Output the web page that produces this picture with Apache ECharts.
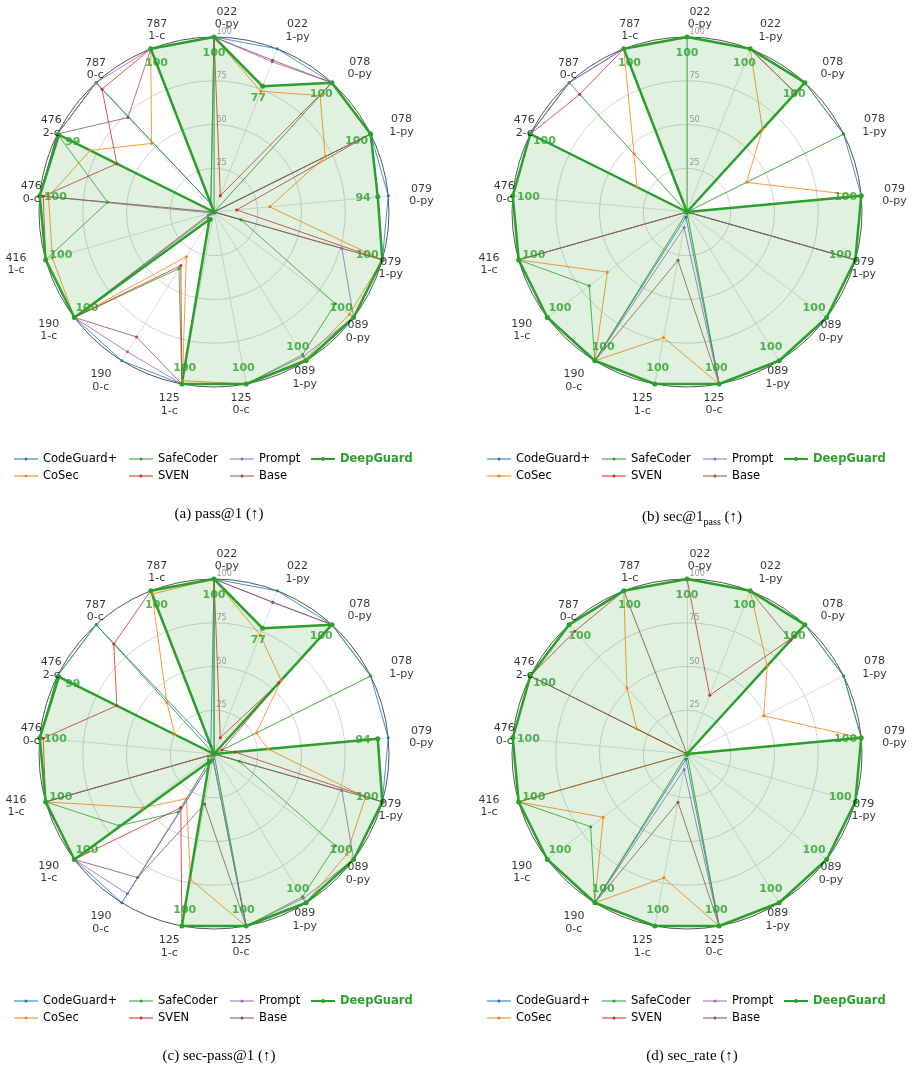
<!DOCTYPE html>
<html>
<head>
<meta charset="utf-8">
<script src="https://cdn.jsdelivr.net/npm/echarts@6/dist/echarts.min.js"></script>
<style>
html, body { margin: 0; padding: 0; background: #fff; }
#main { width: 913px; height: 1068px; }
</style>
</head>
<body>
<div id="main"></div>
<script>
// categories, clockwise from the top
var categories = ['022\n0-py', '022\n1-py', '078\n0-py', '078\n1-py', '079\n0-py', '079\n1-py',
    '089\n0-py', '089\n1-py', '125\n0-c', '125\n1-c', '190\n0-c', '190\n1-c', '416\n1-c',
    '476\n0-c', '476\n2-c', '787\n0-c', '787\n1-c'];
var methods = ['CodeGuard+', 'CoSec', 'SafeCoder', 'SVEN', 'Prompt', 'Base', 'DeepGuard'];
var colors = ['#1f77b4', '#ff7f0e', '#2ca02c', '#d62728', '#9467bd', '#8c564b', '#2ca02c'];
var tickValues = [25, 50, 75, 100];

// rows follow methods order
var passAt1 = [
    [100, 100, 100, 100, 100, 100, 100, 100, 100, 100, 100, 100, 100, 100, 100, 100, 5],
    [100, 74, 90, 71, 32, 100, 97, 99, 100, 98, 30, 100, 96, 95, 79, 53, 100],
    [100, 0, 100, 100, 0, 16, 87, 96, 100, 100, 38, 100, 100, 61, 100, 100, 5],
    [100, 10, 100, 100, 13, 100, 100, 100, 100, 100, 36, 100, 100, 98, 62, 95, 100],
    [100, 92, 100, 100, 0, 76, 100, 97, 100, 100, 94, 100, 2, 100, 100, 100, 100],
    [100, 93, 100, 100, 0, 100, 100, 100, 100, 100, 84, 100, 0, 100, 100, 73, 100],
    [100, 77, 100, 100, 94, 100, 100, 100, 100, 100, 5, 100, 100, 100, 99, 0, 100]
];
var secAt1Pass = [
    [100, 100, 100, 100, 100, 100, 100, 100, 100, 3, 100, 100, 100, 100, 100, 100, 100],
    [100, 100, 64, 38, 100, 100, 100, 100, 100, 73, 100, 57, 100, 0, 32, 45, 100],
    [100, 100, 100, 100, 0, 100, 100, 100, 100, 0, 100, 70, 100, 100, 100, 100, 0],
    [100, 100, 92, 0, 100, 100, 100, 100, 100, 100, 100, 100, 100, 100, 100, 91, 100],
    [100, 100, 100, 0, 0, 100, 100, 100, 100, 9, 100, 100, 100, 0, 100, 100, 100],
    [100, 100, 92, 0, 0, 100, 100, 100, 100, 28, 100, 100, 100, 0, 0, 0, 100],
    [100, 100, 100, 0, 100, 100, 100, 100, 100, 100, 100, 100, 100, 100, 100, 0, 100]
];
var secPassAt1 = [
    [100, 100, 100, 100, 100, 100, 100, 100, 100, 3, 100, 100, 100, 100, 100, 100, 5],
    [100, 73, 57, 27, 31, 90, 95, 100, 100, 73, 30, 51, 100, 0, 25, 40, 98],
    [100, 0, 100, 100, 0, 15, 87, 96, 100, 0, 39, 68, 100, 100, 100, 100, 0],
    [100, 10, 55, 5, 12, 100, 100, 100, 100, 100, 36, 100, 100, 98, 62, 85, 100],
    [100, 93, 100, 0, 0, 76, 100, 97, 100, 3, 94, 100, 100, 0, 0, 0, 100],
    [100, 93, 100, 0, 0, 100, 100, 100, 100, 29, 83, 100, 100, 0, 0, 0, 100],
    [100, 77, 100, 0, 94, 100, 100, 100, 100, 100, 5, 100, 100, 100, 99, 0, 100]
];
var secRate = [
    [100, 100, 100, 100, 100, 100, 100, 100, 100, 3, 100, 100, 100, 100, 100, 100, 100],
    [100, 100, 68, 49, 100, 100, 100, 100, 100, 72, 100, 60, 100, 0, 32, 51, 100],
    [100, 100, 100, 100, 100, 100, 100, 100, 100, 0, 100, 69, 100, 100, 100, 100, 100],
    [100, 36, 91, 0, 100, 100, 100, 100, 100, 100, 100, 100, 100, 100, 100, 95, 100],
    [100, 100, 100, 0, 100, 100, 100, 100, 100, 9, 100, 100, 100, 100, 100, 100, 100],
    [100, 100, 88, 0, 100, 100, 100, 100, 100, 28, 100, 100, 100, 0, 100, 0, 100],
    [100, 100, 100, 0, 100, 100, 100, 100, 100, 100, 100, 100, 100, 100, 100, 100, 100]
];

var captions = [
    '{t|(a) pass@1 (↑)}',
    '{t|(b) sec@1}{s|pass}{t| (↑)}',
    '{t|(c) sec-pass@1 (↑)}',
    '{t|(d) sec_rate (↑)}'
];

// layout
var panels = [
    { data: passAt1, cx: 214, cy: 212 },
    { data: secAt1Pass, cx: 687, cy: 212 },
    { data: secPassAt1, cx: 214, cy: 754 },
    { data: secRate, cx: 687, cy: 754 }
];
var R = 175;
var step = 360 / categories.length;
// tick label placement (radius in axis units, clockwise shift in degrees)
var labelR = [111, 114, 117, 118, 119, 106, 107, 108, 111, 113, 116, 116, 117, 105, 105, 106, 109];
var labelShift = [3.8, 3.6, 3.0, 1.7, 0.6, 1.7, 2.7, 3.1, 2.6, 2.5, 2.1, 1.5, 1.1, 0.7, 1.2, 2.6, 3.7];
var legendCols = [[0, 1], [2, 3], [4, 5], [6]];
var legendX = [14, 129, 230, 311];
var font = 'DejaVu Sans';

// echarts radar runs counter-clockwise, so feed it reversed
var order = [0];
for (var i = categories.length - 1; i > 0; i--) order.push(i);

var option = {
    backgroundColor: '#fff',
    animation: false,
    title: [], radar: [], polar: [], angleAxis: [], radiusAxis: [], legend: [], series: []
};

panels.forEach(function (p, k) {
    var dx = p.cx - 214;

    option.radar.push({
        center: [p.cx, p.cy],
        radius: R,
        startAngle: 90,
        shape: 'circle',
        splitNumber: 4,
        indicator: order.map(function (i) { return { name: categories[i], min: 0, max: 100 }; }),
        axisName: { show: false },
        axisLine: { lineStyle: { color: '#d4d4d4', width: 0.8 } },
        axisTick: { show: false },
        axisLabel: { show: false },
        splitLine: { lineStyle: { color: ['#d4d4d4', '#d4d4d4', '#d4d4d4', '#d4d4d4', '#555'], width: 1 } },
        splitArea: { show: false }
    });

    option.polar.push({ center: [p.cx, p.cy], radius: R * 1.2 });
    option.angleAxis.push({
        polarIndex: k, type: 'value', min: 0, max: 360, startAngle: 90, clockwise: true,
        axisLine: { show: false }, axisTick: { show: false }, axisLabel: { show: false }, splitLine: { show: false }
    });
    option.radiusAxis.push({
        polarIndex: k, type: 'value', min: 0, max: 120,
        axisLine: { show: false }, axisTick: { show: false }, axisLabel: { show: false }, splitLine: { show: false }
    });

    option.series.push({
        type: 'radar',
        radarIndex: k,
        symbol: 'circle',
        data: methods.map(function (m, j) {
            var dg = m === 'DeepGuard';
            var item = {
                name: m,
                value: order.map(function (i) { return p.data[j][i]; }),
                symbolSize: dg ? 5 : 3,
                lineStyle: { color: colors[j], width: dg ? 2.5 : 1, opacity: dg ? 1 : 0.8 },
                itemStyle: { color: colors[j] }
            };
            if (dg) item.areaStyle = { color: colors[j], opacity: 0.15 };
            return item;
        })
    });

    // category names
    option.series.push({
        type: 'scatter', coordinateSystem: 'polar', polarIndex: k, silent: true,
        symbolSize: 1, itemStyle: { color: 'transparent' },
        data: categories.map(function (c, i) { return [labelR[i], i * step + labelShift[i], c]; }),
        label: {
            show: true, position: 'inside', color: '#000', fontSize: 11, lineHeight: 12.5,
            fontFamily: font, formatter: function (q) { return q.value[2]; }
        }
    });

    // DeepGuard value labels
    var dgRow = p.data[6];
    option.series.push({
        type: 'scatter', coordinateSystem: 'polar', polarIndex: k, silent: true, z: 5,
        symbolSize: 1, itemStyle: { color: 'transparent' },
        data: dgRow.map(function (v, i) { return [v * 0.91, i * step, v]; })
            .filter(function (d) { return d[2] > 0; }),
        label: {
            show: true, position: 'inside', color: '#2ca02c', fontSize: 11, fontWeight: 'bold',
            fontFamily: font, formatter: function (q) { return q.value[2]; }
        }
    });

    // radial tick labels
    option.series.push({
        type: 'scatter', coordinateSystem: 'polar', polarIndex: k, silent: true,
        symbolSize: 1, itemStyle: { color: 'transparent' },
        data: tickValues.map(function (v) { return [v, 0, v]; }),
        label: {
            show: true, position: 'right', distance: 2, offset: [0, -5], color: '#808080',
            fontSize: 8, fontFamily: font, formatter: function (q) { return q.value[2]; }
        }
    });

    legendCols.forEach(function (col, c) {
        option.legend.push({
            orient: 'vertical',
            left: legendX[c] + dx,
            top: p.cy + 241,
            padding: 0,
            itemWidth: 24,
            itemHeight: 6,
            itemGap: 5,
            selectedMode: false,
            icon: 'path://M0,2.5H24V3.5H0Z M10.5,3A1.5,1.5,0,1,1,13.5,3A1.5,1.5,0,1,1,10.5,3Z',
            textStyle: { fontSize: 11.5, color: '#000', fontFamily: font },
            data: col.map(function (j) {
                if (methods[j] === 'DeepGuard') {
                    return {
                        name: methods[j],
                        icon: 'path://M0,2H24V4H0Z M10,3A2,2,0,1,1,14,3A2,2,0,1,1,10,3Z',
                        textStyle: { color: '#2ca02c', fontWeight: 'bold' }
                    };
                }
                return { name: methods[j] };
            })
        });
    });

    option.title.push({
        text: captions[k],
        left: p.cx,
        top: p.cy + 290,
        textAlign: 'center',
        textStyle: {
            fontWeight: 'normal',
            rich: {
                t: { fontFamily: 'Liberation Serif', fontSize: 15, fontWeight: 'normal', color: '#000' },
                s: { fontFamily: 'Liberation Serif', fontSize: 10, fontWeight: 'normal', color: '#000', padding: [10, 0, 0, 0] }
            }
        }
    });
});

var myChart = echarts.init(document.getElementById('main'));
myChart.setOption(option);
</script>
</body>
</html>
